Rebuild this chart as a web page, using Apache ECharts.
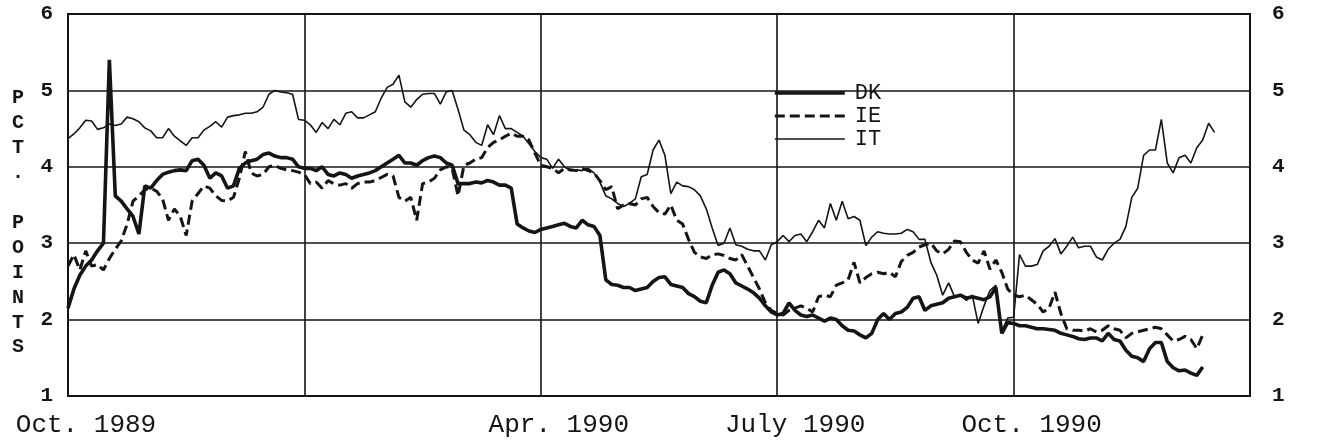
<!DOCTYPE html>
<html>
<head>
<meta charset="utf-8">
<script src="https://cdn.jsdelivr.net/npm/echarts@6/dist/echarts.min.js"></script>
<style>
  html, body { margin: 0; padding: 0; background: #ffffff; }
  #chart { width: 1334px; height: 445px; }
</style>
</head>
<body>
<div id="chart"></div>
<script>
// x positions: 40 steps per quarter (Oct 1989 .. Jan 1991)
const xTickLabels = { 0: 'Oct. 1989', 40: '', 80: 'Apr. 1990', 120: 'July 1990', 160: 'Oct. 1990', 200: '' };
const seriesNames = ['DK', 'IE', 'IT'];
const yTitle = 'PCT. POINTS';

const dk = [
  2.15, 2.40, 2.58, 2.70, 2.78, 2.90, 3.00, 5.40, 3.62, 3.55, 3.45, 3.35, 3.12, 3.75, 3.72, 3.82, 3.90, 3.93, 3.95, 3.96, 3.95, 4.08, 4.10, 4.02, 3.85, 3.92, 3.88, 3.72, 3.75,
  3.98, 4.05, 4.08, 4.10, 4.16, 4.18, 4.14, 4.12, 4.12, 4.10, 4.00, 3.98, 3.98, 3.95, 4.00, 3.90, 3.88, 3.92, 3.90, 3.85, 3.88, 3.90, 3.92, 3.95, 4.00, 4.05, 4.10, 4.15, 4.05,
  4.05, 4.02, 4.08, 4.12, 4.14, 4.12, 4.05, 4.02, 3.78, 3.78, 3.78, 3.80, 3.79, 3.82, 3.80, 3.76, 3.76, 3.72, 3.25, 3.20, 3.16, 3.14, 3.18, 3.20, 3.22, 3.24, 3.26, 3.22, 3.20,
  3.30, 3.24, 3.22, 3.10, 2.52, 2.46, 2.45, 2.42, 2.42, 2.38, 2.40, 2.42, 2.50, 2.55, 2.56, 2.46, 2.44, 2.42, 2.34, 2.30, 2.24, 2.22, 2.45, 2.62, 2.65, 2.60, 2.48, 2.44,
  2.40, 2.35, 2.28, 2.18, 2.10, 2.06, 2.08, 2.22, 2.12, 2.06, 2.04, 2.06, 2.02, 1.98, 2.02, 2.00, 1.92, 1.86, 1.85, 1.80, 1.76, 1.82, 2.00, 2.08, 2.00, 2.08, 2.10, 2.16, 2.28,
  2.30, 2.12, 2.18, 2.20, 2.22, 2.28, 2.30, 2.32, 2.28, 2.30, 2.28, 2.26, 2.30, 2.42, 1.82, 1.96, 1.95, 1.92, 1.92, 1.90, 1.88, 1.88, 1.87, 1.86, 1.82, 1.80, 1.78, 1.75, 1.74,
  1.76, 1.76, 1.72, 1.82, 1.74, 1.72, 1.60, 1.52, 1.50, 1.45, 1.62, 1.70, 1.70, 1.45, 1.37, 1.33, 1.34, 1.30, 1.27, 1.38
];
const ie = [
  2.70, 2.85, 2.65, 2.90, 2.70, 2.72, 2.65, 2.80, 2.92, 3.03, 3.25, 3.55, 3.62, 3.70, 3.72, 3.68, 3.58, 3.30, 3.45, 3.35, 3.10, 3.55, 3.65, 3.75, 3.72, 3.62, 3.56, 3.55, 3.60,
  3.85, 4.20, 3.92, 3.88, 3.90, 4.00, 4.02, 3.98, 3.96, 3.95, 3.93, 3.90, 3.78, 3.80, 3.72, 3.82, 3.78, 3.76, 3.78, 3.72, 3.78, 3.80, 3.80, 3.82, 3.86, 3.90, 3.88, 3.60, 3.55,
  3.60, 3.30, 3.78, 3.80, 3.85, 3.96, 4.00, 3.98, 3.62, 4.02, 4.05, 4.10, 4.12, 4.25, 4.32, 4.35, 4.40, 4.44, 4.40, 4.40, 4.35, 4.18, 4.02, 4.00, 3.98, 3.92, 3.98, 3.96, 3.95,
  3.98, 3.95, 3.92, 3.82, 3.70, 3.74, 3.45, 3.50, 3.52, 3.50, 3.58, 3.60, 3.48, 3.40, 3.38, 3.50, 3.30, 3.25, 3.05, 2.88, 2.82, 2.80, 2.85, 2.86, 2.84, 2.80, 2.78, 2.85,
  2.70, 2.55, 2.40, 2.22, 2.12, 2.08, 2.06, 2.12, 2.15, 2.18, 2.15, 2.10, 2.30, 2.32, 2.30, 2.45, 2.48, 2.52, 2.75, 2.48, 2.55, 2.60, 2.62, 2.60, 2.62, 2.56, 2.76, 2.84, 2.88,
  2.95, 2.98, 3.00, 2.90, 2.86, 2.92, 3.03, 3.02, 2.88, 2.78, 2.74, 2.90, 2.66, 2.78, 2.62, 2.40, 2.32, 2.30, 2.32, 2.26, 2.20, 2.10, 2.15, 2.36, 2.08, 1.88, 1.86, 1.86, 1.85,
  1.88, 1.84, 1.86, 1.92, 1.88, 1.86, 1.76, 1.82, 1.84, 1.86, 1.88, 1.90, 1.88, 1.80, 1.72, 1.74, 1.78, 1.74, 1.62, 1.80
];
const it = [
  4.37, 4.43, 4.51, 4.61, 4.60, 4.49, 4.51, 4.56, 4.54, 4.56, 4.65, 4.63, 4.59, 4.51, 4.47, 4.38, 4.38, 4.50, 4.40, 4.34, 4.28, 4.38, 4.38, 4.48, 4.53, 4.59, 4.52, 4.65, 4.67,
  4.68, 4.70, 4.70, 4.72, 4.78, 4.95, 5.00, 4.98, 4.97, 4.95, 4.62, 4.61, 4.55, 4.45, 4.58, 4.50, 4.62, 4.55, 4.70, 4.72, 4.64, 4.64, 4.68, 4.72, 4.90, 5.04, 5.08, 5.20, 4.85,
  4.78, 4.88, 4.95, 4.96, 4.96, 4.82, 4.98, 5.00, 4.75, 4.48, 4.42, 4.32, 4.28, 4.55, 4.42, 4.67, 4.50, 4.50, 4.45, 4.40, 4.30, 4.20, 4.12, 4.10, 3.98, 4.10, 4.00, 3.95, 3.96,
  3.95, 3.98, 3.92, 3.80, 3.62, 3.58, 3.52, 3.48, 3.52, 3.58, 3.87, 3.90, 4.22, 4.35, 4.15, 3.65, 3.80, 3.75, 3.74, 3.70, 3.62, 3.45, 3.20, 2.97, 3.00, 3.20, 2.98, 2.96,
  2.92, 2.90, 2.90, 2.78, 2.98, 3.02, 3.10, 3.02, 3.10, 3.12, 3.02, 3.15, 3.30, 3.20, 3.52, 3.30, 3.55, 3.32, 3.35, 3.30, 2.97, 3.08, 3.15, 3.13, 3.12, 3.12, 3.13, 3.18, 3.15,
  3.05, 3.05, 2.75, 2.58, 2.32, 2.48, 2.30, 2.32, 2.25, 2.32, 1.95, 2.18, 2.38, 2.45, 1.85, 2.02, 2.03, 2.85, 2.70, 2.70, 2.72, 2.90, 2.96, 3.06, 2.86, 2.96, 3.08, 2.94, 2.96,
  2.96, 2.82, 2.78, 2.92, 3.00, 3.05, 3.22, 3.60, 3.72, 4.15, 4.22, 4.22, 4.62, 4.05, 3.92, 4.12, 4.15, 4.05, 4.25, 4.35, 4.57, 4.45
];

const INK = '#151515';
const MONO = '"Liberation Mono", "DejaVu Sans Mono", monospace';
const toPairs = arr => arr.map((v, i) => [i, v]);
const lineWidths = { DK: 3.6, IE: 3, IT: 1.6 };

const chart = echarts.init(document.getElementById('chart'), null, { renderer: 'canvas' });

const yAxisBase = {
  type: 'value', min: 1, max: 6, interval: 1,
  axisLine: { show: true, lineStyle: { color: INK, width: 2 } },
  axisTick: { show: false },
  axisLabel: { color: INK, fontFamily: MONO, fontSize: 21, fontWeight: 'bold' }
};

chart.setOption({
  animation: false,
  backgroundColor: '#ffffff',
  grid: { left: 68, right: 84, top: 14, bottom: 49, show: true, borderColor: INK, borderWidth: 2 },
  legend: {
    orient: 'vertical', left: 768, top: 77,
    itemWidth: 70, itemHeight: 14, itemGap: 1,
    itemStyle: { color: 'rgba(0,0,0,0)', borderWidth: 0, opacity: 0 },
    data: seriesNames.map(n => ({
      name: n,
      lineStyle: { width: lineWidths[n], color: INK, type: n === 'IE' ? [10, 5] : 'solid' }
    })),
    textStyle: { color: INK, fontFamily: MONO, fontSize: 22, padding: [0, 0, 4, 5] }
  },
  xAxis: {
    type: 'value', min: 0, max: 200, interval: 40,
    axisLine: { show: true, lineStyle: { color: INK, width: 2 } },
    axisTick: { show: false },
    splitLine: { show: true, lineStyle: { color: INK, width: 1.6 } },
    axisLabel: {
      color: INK, fontFamily: MONO, fontSize: 26, margin: 16,
      padding: [0, 0, 0, 36],
      formatter: v => (xTickLabels[v] !== undefined ? xTickLabels[v] : '')
    }
  },
  yAxis: [
    Object.assign({}, yAxisBase, {
      position: 'left',
      splitLine: { show: true, lineStyle: { color: INK, width: 1.6 } },
      axisLabel: Object.assign({}, yAxisBase.axisLabel, { margin: 15 })
    }),
    Object.assign({}, yAxisBase, {
      position: 'right',
      splitLine: { show: false },
      axisLabel: Object.assign({}, yAxisBase.axisLabel, { margin: 22 })
    })
  ],
  graphic: [{
    type: 'text', left: 12, top: 86,
    style: {
      text: yTitle.split('').map(c => (c === ' ' ? '' : c)).join('\n'),
      fill: INK, font: 'bold 20px ' + MONO, lineHeight: 24.9, textAlign: 'center'
    }
  }],
  series: [
    { name: seriesNames[0], type: 'line', data: toPairs(dk), symbol: 'none', showSymbol: false,
      lineStyle: { color: INK, width: lineWidths.DK }, itemStyle: { color: INK } },
    { name: seriesNames[1], type: 'line', data: toPairs(ie), symbol: 'none', showSymbol: false,
      lineStyle: { color: INK, width: lineWidths.IE, type: [10, 5] }, itemStyle: { color: INK } },
    { name: seriesNames[2], type: 'line', data: toPairs(it), symbol: 'none', showSymbol: false,
      lineStyle: { color: INK, width: lineWidths.IT }, itemStyle: { color: INK } }
  ]
});
</script>
</body>
</html>
